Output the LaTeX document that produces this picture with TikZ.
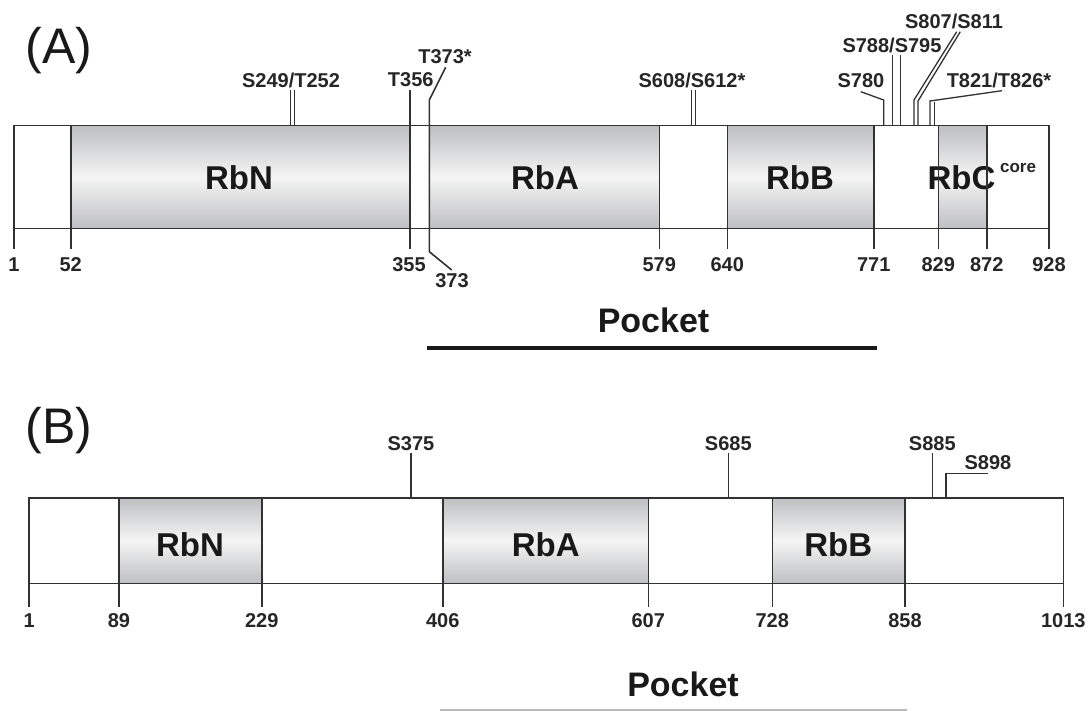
\documentclass[tikz,border=0pt]{standalone}
\usepackage{fontspec}
\setmainfont{Liberation Sans}
\definecolor{dg}{RGB}{190,191,194}
\definecolor{lc}{RGB}{50,50,50}
\definecolor{pb}{RGB}{185,185,185}
\begin{document}
\begin{tikzpicture}[x=1pt,y=-1pt,
  ln/.style={draw=lc,line width=1.6pt},
  dom/.style={top color=dg,bottom color=dg,middle color=white!96!black},
  domlab/.style={font=\bfseries\fontsize{33}{36}\selectfont,inner sep=0pt,text=black!90},
  numlab/.style={font=\bfseries\fontsize{20}{22}\selectfont,inner sep=0pt,text=black!85},
  sitelab/.style={font=\bfseries\fontsize{20}{22}\selectfont,inner sep=0pt,text=black!85},
  corelab/.style={font=\bfseries\fontsize{17}{19}\selectfont,inner sep=0pt,text=black!85},
  panellab/.style={font=\fontsize{50}{54}\selectfont,inner sep=0pt,anchor=base,text=black!90},
  pocketlab/.style={font=\bfseries\fontsize{34}{36}\selectfont,inner sep=0pt,text=black!90}]
\useasboundingbox[fill=white] (0,0) rectangle (1088,711);

% ================= Panel A =================
\def\At{125.5}\def\Ab{228.7}\def\Ak{249.5}
\node[panellab] (pA) at (59,64) {(A)};
% domains
\shade[dom] (70.7,\At) rectangle (410,\Ab);
\shade[dom] (429.3,\At) rectangle (659.3,\Ab);
\shade[dom] (727.3,\At) rectangle (873.7,\Ab);
\shade[dom] (938.3,\At) rectangle (986.7,\Ab);
\draw[ln] (14,\At) rectangle (1049,\Ab);
% domain labels
\node[domlab] (rbnA) at (239,178) {RbN};
\node[domlab] (rbaA) at (545,178) {RbA};
\node[domlab] (rbbA) at (800,178) {RbB};
\node[domlab] (rbcA) at (961.5,178) {RbC};
\node[corelab] (coreA) at (1018,168) {core};
% tick labels
\node[numlab] (a1) at (14,264.5) {1};
\node[numlab] (a52) at (70.7,264.5) {52};
\node[numlab] (a355) at (409,264.5) {355};
\node[numlab] (a373) at (452,281) {373};
\node[numlab] (a579) at (659.3,264.5) {579};
\node[numlab] (a640) at (727.3,264.5) {640};
\node[numlab] (a771) at (873.7,264.5) {771};
\node[numlab] (a829) at (938.3,264.5) {829};
\node[numlab] (a872) at (986.7,264.5) {872};
\node[numlab] (a928) at (1049,264.5) {928};
% site labels
\node[sitelab] (s249) at (291,80) {S249/T252};
\node[sitelab] (t356) at (410.7,80) {T356};
\node[sitelab] (t373) at (445,57) {T373*};
\node[sitelab] (s608) at (692,80) {S608/S612*};
\node[sitelab] (s780) at (861,81) {S780};
\node[sitelab] (s788) at (892,45.5) {S788/S795};
\node[sitelab] (s807) at (954,21) {S807/S811};
\node[sitelab] (t821) at (999,80) {T821/T826*};
% ticks
\draw[ln] (14,\Ab) -- (14,\Ak);
\draw[ln] (70.7,\At) -- (70.7,\Ak);
\draw[ln] (659.3,\At) -- (659.3,\Ak);
\draw[ln] (727.3,\At) -- (727.3,\Ak);
\draw[ln] (873.7,\At) -- (873.7,\Ak);
\draw[ln] (938.3,\At) -- (938.3,\Ak);
\draw[ln] (986.7,\At) -- (986.7,\Ak);
\draw[ln] (1049,\Ab) -- (1049,\Ak);
% T356 / 355 line through the box
\draw[ln] (410,90) -- (410,\Ak);
% T373 / 373 line with bends
\draw[ln] (445.7,67.3) -- (429.3,100) -- (429.3,251.7) -- (451.7,270);
% sites
\draw[ln,line width=1.3pt] (290.8,\At) -- (290.8,90);
\draw[ln,line width=1.3pt] (294.4,\At) -- (294.4,90);
\draw[ln,line width=1.3pt] (691.7,\At) -- (691.7,90);
\draw[ln,line width=1.3pt] (695.3,\At) -- (695.3,90);
\draw[ln,line width=1.3pt] (883.7,\At) -- (883.7,100) -- (860.7,91.7);
\draw[ln,line width=1.3pt] (892.7,\At) -- (892.7,55);
\draw[ln,line width=1.3pt] (900.3,\At) -- (900.3,55);
\draw[ln,line width=1.3pt] (914,\At) -- (914,100) -- (956.7,31.7);
\draw[ln,line width=1.3pt] (918,\At) -- (918,101) -- (960.3,31.7);
\draw[ln,line width=1.3pt] (930,\At) -- (930,101) -- (1002,90.7);
\draw[ln,line width=1.3pt] (934.5,\At) -- (934.5,102.5);
% pocket A
\node[pocketlab] (pocketA) at (653.5,320) {Pocket};
\coordinate (pAl) at (427,348);
\coordinate (pAr) at (876.5,348);
\draw[line width=4.5pt,black!90] (pAl) -- (pAr);

% ================= Panel B =================
\def\Bt{497.7}\def\Bb{583.3}\def\Bk{606.7}
\node[panellab] (pB) at (59,444) {(B)};
\shade[dom] (119,\Bt) rectangle (261.7,\Bb);
\shade[dom] (442.7,\Bt) rectangle (648.3,\Bb);
\shade[dom] (772.3,\Bt) rectangle (905,\Bb);
\draw[ln] (28.7,\Bt) rectangle (1063.3,\Bb);
\node[domlab] (rbnB) at (190,545) {RbN};
\node[domlab] (rbaB) at (545.7,545) {RbA};
\node[domlab] (rbbB) at (838.3,545) {RbB};
% ticks
\draw[ln] (28.7,\Bb) -- (28.7,\Bk);
\draw[ln] (119,\Bt) -- (119,\Bk);
\draw[ln] (261.7,\Bt) -- (261.7,\Bk);
\draw[ln] (442.7,\Bt) -- (442.7,\Bk);
\draw[ln] (648.3,\Bt) -- (648.3,\Bk);
\draw[ln] (772.3,\Bt) -- (772.3,\Bk);
\draw[ln] (905,\Bt) -- (905,\Bk);
\draw[ln] (1063.3,\Bb) -- (1063.3,\Bk);
\node[numlab] (b1) at (29.3,620.5) {1};
\node[numlab] (b89) at (119,620.5) {89};
\node[numlab] (b229) at (261.7,620.5) {229};
\node[numlab] (b406) at (442.7,620.5) {406};
\node[numlab] (b607) at (648.3,620.5) {607};
\node[numlab] (b728) at (772.3,620.5) {728};
\node[numlab] (b858) at (905,620.5) {858};
\node[numlab] (b1013) at (1063.3,620.5) {1013};
% sites
\node[sitelab] (s375) at (411,443.5) {S375};
\node[sitelab] (s685) at (728.3,443.5) {S685};
\node[sitelab] (s885) at (932.3,443.5) {S885};
\node[sitelab] (s898) at (988,462.5) {S898};
\draw[ln,line width=1.3pt] (411,\Bt) -- (411,453.5);
\draw[ln,line width=1.3pt] (728.3,\Bt) -- (728.3,453.5);
\draw[ln,line width=1.3pt] (932.3,\Bt) -- (932.3,453.5);
\draw[ln,line width=1.3pt] (946,\Bt) -- (946,473.3) -- (988.3,473.3);
% pocket B
\node[pocketlab] (pocketB) at (683,684.5) {Pocket};
\coordinate (pBl) at (440,710);
\coordinate (pBr) at (907,710);
\draw[line width=1.5pt,pb] (pBl) -- (pBr);
\end{tikzpicture}
\end{document}
